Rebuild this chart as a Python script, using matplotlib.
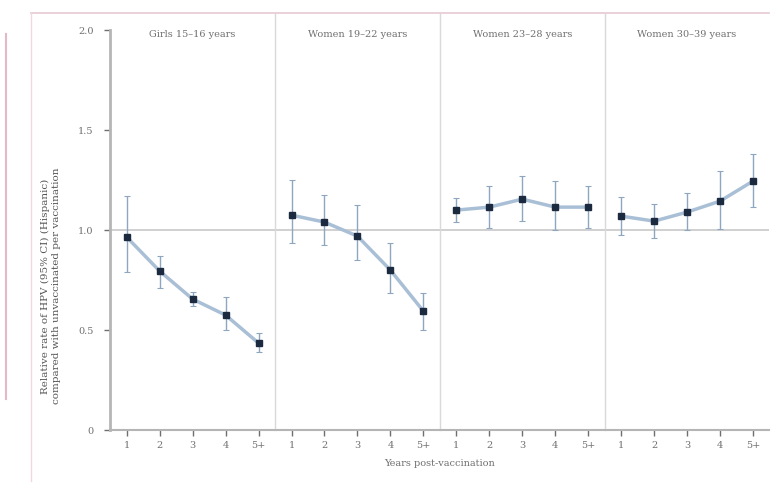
import matplotlib.pyplot as plt
import numpy as np
from matplotlib.lines import Line2D

plt.rcParams.update({'font.size': 7, 'font.family': 'DejaVu Serif'})

# panels and years
panels = ['Girls 15–16 years', 'Women 19–22 years', 'Women 23–28 years', 'Women 30–39 years']
years = ['1', '2', '3', '4', '5+']

# relative rate and 95% CI per panel
rate_girls = [0.965, 0.795, 0.655, 0.575, 0.435]
low_girls = [0.79, 0.71, 0.62, 0.50, 0.39]
high_girls = [1.17, 0.87, 0.69, 0.665, 0.485]

rate_w19 = [1.075, 1.04, 0.97, 0.80, 0.595]
low_w19 = [0.935, 0.925, 0.85, 0.685, 0.50]
high_w19 = [1.25, 1.175, 1.125, 0.935, 0.685]

rate_w23 = [1.10, 1.115, 1.155, 1.115, 1.115]
low_w23 = [1.04, 1.01, 1.045, 1.00, 1.01]
high_w23 = [1.16, 1.22, 1.27, 1.245, 1.22]

rate_w30 = [1.07, 1.045, 1.09, 1.145, 1.245]
low_w30 = [0.975, 0.96, 1.00, 1.005, 1.115]
high_w30 = [1.165, 1.13, 1.185, 1.295, 1.38]

rates = [rate_girls, rate_w19, rate_w23, rate_w30]
lows = [low_girls, low_w19, low_w23, low_w30]
highs = [high_girls, high_w19, high_w23, high_w30]

txt_col = '#6f6f6f'
axis_col = '#b5b5b5'
line_col = '#a9bfd6'
err_col = '#8ea6bf'
mark_col = '#1c2a40'

fig = plt.figure(figsize=(7.71, 4.86), dpi=100)
ax = fig.add_axes([0.143, 0.115, 0.855, 0.823])

# pink frame
fig.add_artist(Line2D([0.04, 0.998], [0.973, 0.973], color='#e8c8d2', lw=1.2))
fig.add_artist(Line2D([0.04, 0.04], [0.01, 0.973], color='#f0d8df', lw=1.0))
fig.add_artist(Line2D([0.008, 0.008], [0.18, 0.93], color='#e3b9c6', lw=1.5))

ax.axhline(1.0, color='#c8c8c8', lw=1.2, zorder=1)

xticks = []
xlabels = []
for p in range(4):
    xs = 5 * p + 0.5 + np.arange(5)
    r = np.array(rates[p])
    lo = np.array(lows[p])
    hi = np.array(highs[p])
    ax.errorbar(xs, r, yerr=[r - lo, hi - r], fmt='none', ecolor=err_col,
                elinewidth=1.0, capsize=2, capthick=0.8, zorder=2)
    ax.plot(xs, r, color=line_col, lw=2.5, zorder=3)
    ax.plot(xs, r, 's', color=mark_col, markersize=4, zorder=4)
    ax.text(5 * p + 2.5, 1.98, panels[p], ha='center', va='center',
            color=txt_col, fontsize=7)
    if p > 0:
        ax.axvline(5 * p, color='#d9d9d9', lw=1.0, ymin=0, ymax=1.04,
                   clip_on=False, zorder=1)
    xticks.extend(xs)
    xlabels.extend(years)

ax.set_xlim(0, 20)
ax.set_ylim(0, 2.0)
ax.set_xticks(xticks)
ax.set_xticklabels(xlabels)
ax.set_yticks([0, 0.5, 1.0, 1.5, 2.0])
ax.set_yticklabels(['0', '0.5', '1.0', '1.5', '2.0'])
ax.tick_params(colors=txt_col, labelcolor=txt_col, length=4, width=1.0)
ax.tick_params(axis='y', pad=8)
ax.tick_params(axis='x', pad=4)

for s in ['top', 'right']:
    ax.spines[s].set_visible(False)
ax.spines['left'].set_color(axis_col)
ax.spines['left'].set_linewidth(2.0)
ax.spines['bottom'].set_color(axis_col)
ax.spines['bottom'].set_linewidth(1.5)

ax.set_xlabel('Years post-vaccination', color=txt_col, fontsize=7, labelpad=6)
ax.set_ylabel('Relative rate of HPV (95% CI) (Hispanic)\ncompared with unvaccinated per vaccination',
              color='#555555', fontsize=7.5)
ax.yaxis.set_label_coords(-0.075, 0.36)

plt.savefig('out.png', dpi=100)
